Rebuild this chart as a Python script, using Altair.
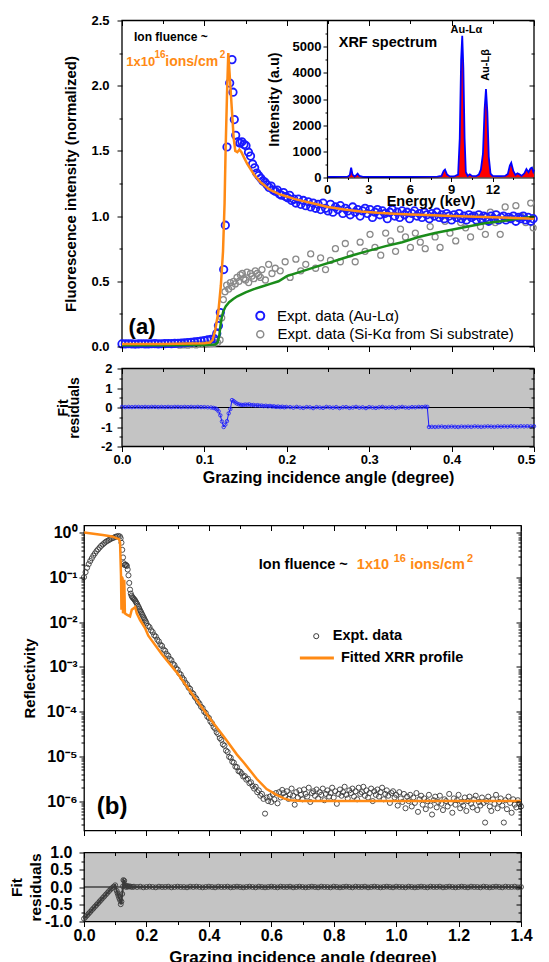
import altair as alt
import pandas as pd

FONT = "Liberation Sans"
BLUE = "#1a1aff"
ORANGE = "#ff8a14"
GREEN = "#1a8c1a"
GREY = "#8a8a8a"
DARK = "#3a3a3a"
RES_BG = "#c4c4c4"

# ---------------- Panel (a): GIXRF ----------------
au_pairs = [
    (0.000, 0.020), (0.004, 0.020), (0.008, 0.021), (0.012, 0.020), (0.016, 0.019), (0.020, 0.020),
    (0.024, 0.021), (0.028, 0.020), (0.032, 0.020), (0.036, 0.021), (0.040, 0.022), (0.044, 0.020),
    (0.048, 0.021), (0.052, 0.022), (0.056, 0.023), (0.060, 0.022), (0.064, 0.024), (0.068, 0.025),
    (0.072, 0.026), (0.076, 0.028), (0.080, 0.030), (0.084, 0.032), (0.088, 0.035), (0.092, 0.038),
    (0.096, 0.042), (0.100, 0.045), (0.104, 0.050), (0.108, 0.055),
    (0.112, 0.06), (0.115, 0.10), (0.117, 0.16), (0.1193, 0.26), (0.1234, 0.59), (0.1254, 0.93),
    (0.1274, 1.53), (0.1307, 2.02), (0.1335, 2.20), (0.1347, 1.95), (0.1363, 1.74), (0.1380, 1.62),
    (0.1405, 1.57), (0.1430, 1.56), (0.1455, 1.57), (0.1480, 1.55), (0.1505, 1.54), (0.1535, 1.49),
    (0.1560, 1.46), (0.1585, 1.40), (0.1610, 1.37), (0.1635, 1.33), (0.1660, 1.31), (0.1685, 1.29),
    (0.1710, 1.27), (0.1735, 1.26), (0.1760, 1.24), (0.1785, 1.22), (0.1810, 1.23), (0.1835, 1.20),
    (0.1860, 1.19), (0.1885, 1.20), (0.1910, 1.17), (0.1935, 1.16), (0.1960, 1.18), (0.1985, 1.15),
    (0.2010, 1.14), (0.2035, 1.16), (0.2060, 1.12), (0.2085, 1.13),
    (0.211, 1.10), (0.214, 1.13), (0.217, 1.09), (0.220, 1.12), (0.223, 1.08), (0.226, 1.11),
    (0.229, 1.07), (0.232, 1.10), (0.235, 1.06), (0.238, 1.09), (0.241, 1.05), (0.244, 1.10),
    (0.247, 1.06), (0.250, 1.04), (0.253, 1.09), (0.256, 1.03), (0.259, 1.07), (0.262, 1.05),
    (0.265, 1.08), (0.268, 1.02), (0.271, 1.06), (0.274, 1.04), (0.277, 1.01), (0.280, 1.07),
    (0.283, 1.03), (0.286, 1.05), (0.289, 1.00), (0.292, 1.04), (0.295, 1.06), (0.298, 1.02),
    (0.301, 1.05), (0.304, 0.99), (0.307, 1.03), (0.310, 1.05), (0.313, 1.01), (0.316, 1.04),
    (0.319, 1.02), (0.322, 0.98), (0.325, 1.03), (0.328, 1.05), (0.331, 1.00), (0.334, 1.03),
    (0.337, 0.99), (0.340, 1.04), (0.343, 1.01), (0.346, 1.03), (0.349, 0.98), (0.352, 1.02),
    (0.355, 1.04), (0.358, 1.00), (0.361, 1.02), (0.364, 0.99), (0.367, 1.03), (0.370, 1.01),
    (0.373, 0.98), (0.376, 1.02), (0.379, 1.00), (0.382, 1.03), (0.385, 0.99), (0.388, 1.01),
    (0.391, 0.98), (0.394, 1.02), (0.397, 1.00), (0.400, 0.97), (0.403, 1.01), (0.406, 0.99),
    (0.409, 1.02), (0.412, 0.98), (0.415, 1.00), (0.418, 0.97), (0.421, 1.01), (0.424, 0.99),
    (0.427, 1.00), (0.430, 0.97), (0.433, 1.01), (0.436, 0.98), (0.439, 1.00), (0.442, 0.99),
    (0.445, 0.96), (0.448, 1.00), (0.451, 0.98), (0.454, 1.01), (0.457, 0.97), (0.460, 0.99),
    (0.463, 1.00), (0.466, 0.97), (0.469, 0.99), (0.472, 0.98), (0.475, 1.00), (0.478, 0.96),
    (0.481, 0.99), (0.484, 0.98), (0.487, 1.00), (0.490, 0.97), (0.493, 0.99), (0.496, 0.96),
    (0.499, 0.98),
]

si_pairs = [
    (0.070, 0.010), (0.075, 0.012), (0.080, 0.010), (0.085, 0.015), (0.090, 0.012), (0.095, 0.018),
    (0.100, 0.015), (0.104, 0.020), (0.108, 0.022), (0.112, 0.025), (0.116, 0.030), (0.119, 0.050),
    (0.121, 0.22), (0.123, 0.36), (0.125, 0.42), (0.127, 0.47), (0.1295, 0.44), (0.1315, 0.49),
    (0.1335, 0.46), (0.1355, 0.50), (0.1375, 0.48), (0.1396, 0.53), (0.142, 0.50), (0.1436, 0.55),
    (0.146, 0.56), (0.1477, 0.52), (0.150, 0.51), (0.1517, 0.57), (0.1537, 0.49), (0.156, 0.56),
    (0.1578, 0.54), (0.160, 0.52), (0.1618, 0.58), (0.164, 0.56), (0.1659, 0.545), (0.168, 0.53),
    (0.1699, 0.59), (0.174, 0.51), (0.178, 0.63), (0.182, 0.56), (0.186, 0.60), (0.192, 0.58),
    (0.198, 0.65), (0.204, 0.53), (0.211, 0.67), (0.217, 0.58), (0.223, 0.63), (0.229, 0.71),
    (0.235, 0.60), (0.241, 0.68), (0.247, 0.59), (0.253, 0.66), (0.259, 0.75), (0.265, 0.65),
    (0.271, 0.79), (0.277, 0.71), (0.283, 0.65), (0.289, 0.80), (0.295, 0.73), (0.301, 0.86),
    (0.307, 0.76), (0.314, 0.70), (0.320, 0.87), (0.326, 0.81), (0.332, 0.73), (0.338, 0.90),
    (0.344, 0.84), (0.350, 0.76), (0.356, 0.87), (0.362, 0.80), (0.368, 0.75), (0.374, 0.92),
    (0.380, 0.84), (0.386, 0.76), (0.392, 0.96), (0.398, 0.87), (0.405, 0.81), (0.411, 0.95),
    (0.417, 0.91), (0.423, 0.84), (0.429, 1.00), (0.435, 0.92), (0.441, 0.86), (0.447, 1.03),
    (0.453, 0.95), (0.459, 0.86), (0.465, 1.07), (0.471, 0.98), (0.478, 1.08), (0.484, 1.00),
    (0.490, 0.95), (0.496, 1.10), (0.499, 0.91),
]

fit_au_pairs = [
    (0.0, 0.02), (0.05, 0.02), (0.10, 0.025), (0.107, 0.03), (0.110, 0.05), (0.113, 0.12),
    (0.117, 0.27), (0.120, 0.47), (0.1226, 0.73), (0.1245, 1.10), (0.1257, 1.50), (0.1275, 1.95),
    (0.129, 2.25), (0.131, 2.05), (0.1335, 1.80), (0.1355, 1.60), (0.1375, 1.50), (0.140, 1.49),
    (0.1425, 1.51), (0.145, 1.49), (0.148, 1.45), (0.152, 1.40), (0.156, 1.36), (0.160, 1.32),
    (0.164, 1.29), (0.168, 1.26), (0.172, 1.24), (0.176, 1.22), (0.180, 1.20), (0.185, 1.185),
    (0.190, 1.17), (0.200, 1.15), (0.210, 1.13), (0.220, 1.115), (0.230, 1.10), (0.240, 1.085),
    (0.250, 1.07), (0.270, 1.05), (0.290, 1.035), (0.310, 1.025), (0.330, 1.018), (0.350, 1.012),
    (0.370, 1.008), (0.400, 1.0), (0.430, 0.995), (0.460, 0.99), (0.500, 0.98),
]

fit_si_pairs = [
    (0.0, 0.01), (0.05, 0.01), (0.10, 0.012), (0.113, 0.015), (0.116, 0.03), (0.118, 0.08),
    (0.1195, 0.16), (0.121, 0.22), (0.123, 0.27), (0.126, 0.31), (0.130, 0.34), (0.135, 0.365),
    (0.140, 0.385), (0.150, 0.415), (0.160, 0.44), (0.170, 0.46), (0.180, 0.48), (0.190, 0.50),
    (0.200, 0.54), (0.220, 0.58), (0.240, 0.62), (0.260, 0.66), (0.280, 0.70), (0.300, 0.735),
    (0.320, 0.77), (0.340, 0.80), (0.360, 0.84), (0.380, 0.87), (0.400, 0.895), (0.420, 0.92),
    (0.440, 0.945), (0.460, 0.96), (0.480, 0.98), (0.500, 0.995),
]

res_a_pairs = [
    (0.000, 0.03), (0.004, 0.02), (0.008, 0.03), (0.012, 0.02), (0.016, 0.03), (0.020, 0.03),
    (0.024, 0.02), (0.028, 0.03), (0.032, 0.02), (0.036, 0.03), (0.040, 0.03), (0.044, 0.02),
    (0.048, 0.03), (0.052, 0.02), (0.056, 0.03), (0.060, 0.02), (0.064, 0.03), (0.068, 0.03),
    (0.072, 0.02), (0.076, 0.03), (0.080, 0.02), (0.084, 0.03), (0.088, 0.02), (0.092, 0.03),
    (0.096, 0.02), (0.100, 0.02), (0.104, 0.01), (0.108, 0.00),
    (0.1110, -0.02), (0.1135, -0.05), (0.1153, -0.10), (0.1173, -0.20), (0.1193, -0.40),
    (0.1213, -0.72), (0.1234, -1.00), (0.1254, -0.88), (0.1274, -0.70), (0.1295, -0.30),
    (0.1315, -0.08), (0.1335, 0.38), (0.1355, 0.33), (0.1375, 0.26), (0.1395, 0.20), (0.1420, 0.16),
    (0.1445, 0.14), (0.1470, 0.13), (0.1495, 0.15), (0.1520, 0.14), (0.1545, 0.16), (0.1570, 0.12),
    (0.1595, 0.13), (0.1620, 0.10), (0.1645, 0.12), (0.1670, 0.09), (0.1695, 0.10), (0.1720, 0.07),
    (0.1745, 0.09), (0.1770, 0.06), (0.1795, 0.08), (0.1820, 0.05), (0.1845, 0.06), (0.1870, 0.03),
    (0.1895, 0.05), (0.1920, 0.02), (0.1945, 0.04), (0.1970, 0.01), (0.1995, 0.03),
    (0.204, 0.02), (0.208, -0.01), (0.212, 0.03), (0.216, 0.00), (0.220, -0.02), (0.224, 0.02),
    (0.228, 0.01), (0.232, -0.03), (0.236, 0.02), (0.240, 0.00), (0.244, -0.02), (0.248, 0.03),
    (0.252, 0.01), (0.256, -0.01), (0.260, 0.02), (0.264, -0.03), (0.268, 0.01), (0.272, 0.02),
    (0.276, -0.02), (0.280, 0.00), (0.284, 0.03), (0.288, -0.01), (0.292, 0.01), (0.296, -0.03),
    (0.300, 0.02), (0.304, 0.00), (0.308, -0.02), (0.312, 0.01), (0.316, 0.03), (0.320, -0.01),
    (0.324, 0.00), (0.328, 0.02), (0.332, -0.02), (0.336, 0.01), (0.340, 0.03), (0.344, 0.00),
    (0.348, -0.01), (0.352, 0.02), (0.356, 0.01), (0.360, 0.03), (0.364, 0.02), (0.368, 0.04),
    (0.3705, 0.03), (0.3725, -1.00),
    (0.376, -0.99), (0.380, -1.00), (0.384, -0.99), (0.388, -0.98), (0.392, -1.00), (0.396, -0.99),
    (0.400, -0.98), (0.404, -0.99), (0.408, -1.00), (0.412, -0.98), (0.416, -0.99), (0.420, -0.98),
    (0.424, -0.99), (0.428, -0.97), (0.432, -0.98), (0.436, -0.99), (0.440, -0.98), (0.444, -0.97),
    (0.448, -0.98), (0.452, -0.99), (0.456, -0.97), (0.460, -0.98), (0.464, -0.97), (0.468, -0.98),
    (0.472, -0.96), (0.476, -0.97), (0.480, -0.98), (0.484, -0.96), (0.488, -0.97), (0.492, -0.96),
    (0.496, -0.97), (0.500, -0.96),
]

# XRF spectrum inset (energy keV, counts)
xrf_pairs = [
    (0.0, 20), (0.5, 20), (1.0, 25), (1.5, 30), (1.65, 90), (1.75, 380), (1.85, 110), (2.0, 40),
    (2.12, 90), (2.22, 150), (2.35, 60), (2.6, 25), (3.0, 20), (4.0, 20), (5.0, 20), (6.0, 20),
    (7.0, 25), (8.0, 30), (8.3, 60), (8.45, 250), (8.55, 300), (8.7, 110), (8.9, 40), (9.2, 40),
    (9.5, 110), (9.62, 1500), (9.72, 4500), (9.80, 5420), (9.88, 4200), (9.97, 1500), (10.06, 200),
    (10.2, 60), (10.35, 120), (10.5, 60), (10.8, 50), (11.0, 110), (11.15, 300), (11.3, 900),
    (11.42, 2600), (11.52, 3380), (11.62, 2500), (11.72, 800), (11.85, 150), (12.0, 60), (12.3, 50),
    (12.6, 50), (12.9, 60), (13.1, 130), (13.25, 460), (13.35, 560), (13.5, 250), (13.65, 100),
    (13.8, 160), (13.95, 120), (14.1, 60), (14.3, 160), (14.45, 320), (14.6, 200), (14.75, 350),
    (14.85, 380), (14.95, 220), (15.0, 300),
]

# ---------------- Panel (b): XRR (angle, log10 reflectivity) ----------------
xrr_pairs = [
    (0.000, -0.99), (0.005, -0.88), (0.010, -0.78), (0.015, -0.70), (0.020, -0.63), (0.025, -0.57),
    (0.030, -0.51), (0.035, -0.46), (0.040, -0.41), (0.045, -0.37), (0.050, -0.33), (0.055, -0.29),
    (0.060, -0.26), (0.065, -0.23), (0.070, -0.20), (0.075, -0.18), (0.080, -0.16), (0.085, -0.14),
    (0.090, -0.12), (0.095, -0.11), (0.100, -0.09), (0.105, -0.08), (0.110, -0.07), (0.115, -0.08),
    (0.1175, -0.12), (0.1200, -0.22), (0.1225, -0.38), (0.1250, -0.55), (0.1275, -0.68),
    (0.1300, -0.72), (0.1325, -0.71), (0.1350, -0.72), (0.1375, -0.74), (0.1400, -0.82),
    (0.1425, -0.95), (0.1450, -1.12), (0.1475, -1.27), (0.1500, -1.36), (0.1525, -1.41),
    (0.1550, -1.44), (0.1575, -1.46), (0.1600, -1.48), (0.1625, -1.50), (0.1650, -1.53),
    (0.1675, -1.56), (0.1700, -1.59), (0.1725, -1.63), (0.1750, -1.66), (0.1775, -1.70),
    (0.1800, -1.74), (0.1825, -1.77), (0.1850, -1.81), (0.1875, -1.84), (0.1900, -1.88),
    (0.1925, -1.91), (0.1950, -1.95), (0.1975, -1.98), (0.2000, -2.02),
    (0.205, -2.08), (0.210, -2.11), (0.215, -2.18), (0.220, -2.22), (0.225, -2.29), (0.230, -2.32),
    (0.235, -2.39), (0.240, -2.43), (0.245, -2.50), (0.250, -2.53), (0.255, -2.61), (0.260, -2.64),
    (0.265, -2.71), (0.270, -2.75), (0.275, -2.82), (0.280, -2.85), (0.285, -2.93), (0.290, -2.96),
    (0.295, -3.03), (0.300, -3.06), (0.305, -3.14), (0.310, -3.17), (0.315, -3.24), (0.320, -3.28),
    (0.325, -3.35), (0.330, -3.39), (0.335, -3.46), (0.340, -3.49), (0.345, -3.57), (0.350, -3.60),
    (0.355, -3.67), (0.360, -3.71), (0.365, -3.78), (0.370, -3.82), (0.375, -3.89), (0.380, -3.92),
    (0.385, -4.00), (0.390, -4.03), (0.395, -4.11), (0.400, -4.14), (0.405, -4.22), (0.410, -4.26),
    (0.415, -4.34), (0.420, -4.38), (0.425, -4.46), (0.430, -4.50), (0.435, -4.59), (0.440, -4.63),
    (0.445, -4.73), (0.450, -4.76), (0.455, -4.87), (0.460, -4.90), (0.465, -5.01), (0.470, -5.03),
    (0.475, -5.12), (0.480, -5.14), (0.485, -5.23), (0.490, -5.24), (0.495, -5.33), (0.500, -5.34),
    (0.505, -5.38), (0.510, -5.45), (0.515, -5.44), (0.520, -5.52), (0.525, -5.50), (0.530, -5.60),
    (0.535, -5.58), (0.540, -5.66), (0.545, -5.72), (0.550, -5.68), (0.555, -5.80), (0.560, -5.76),
    (0.565, -5.88), (0.570, -5.84), (0.575, -5.95), (0.580, -6.28), (0.585, -5.92), (0.590, -6.00),
    (0.595, -5.90), (0.600, -6.02), (0.605, -5.85), (0.610, -5.96), (0.615, -5.82), (0.620, -6.05),
    (0.625, -5.80), (0.630, -5.92), (0.635, -5.75),
    (0.640, -5.82), (0.645, -5.90), (0.650, -5.78), (0.655, -5.95), (0.660, -5.85), (0.665, -5.72),
    (0.670, -5.88), (0.675, -6.08), (0.680, -5.80), (0.685, -5.92),
    (0.690, -5.76), (0.695, -5.86), (0.700, -5.96), (0.705, -5.74), (0.710, -5.84), (0.715, -5.90),
    (0.720, -5.70), (0.725, -6.02), (0.730, -5.82), (0.735, -5.78),
    (0.740, -5.88), (0.745, -5.74), (0.750, -5.94), (0.755, -5.80), (0.760, -5.86), (0.765, -5.72),
    (0.770, -5.98), (0.775, -5.84), (0.780, -5.76), (0.785, -5.90),
    (0.790, -5.82), (0.795, -5.70), (0.800, -5.92), (0.805, -5.78), (0.810, -6.06), (0.815, -5.84),
    (0.820, -5.74), (0.825, -5.88), (0.830, -5.80), (0.835, -5.68),
    (0.840, -5.86), (0.845, -5.94), (0.850, -5.76), (0.855, -5.82), (0.860, -5.72), (0.865, -5.90),
    (0.870, -5.78), (0.875, -5.96), (0.880, -5.70), (0.885, -5.84),
    (0.890, -5.80), (0.895, -5.68), (0.900, -5.88), (0.905, -5.76), (0.910, -5.92), (0.915, -5.82),
    (0.920, -5.72), (0.925, -6.00), (0.930, -5.78), (0.935, -5.86),
    (0.940, -5.74), (0.945, -5.90), (0.950, -5.80), (0.955, -5.70), (0.960, -5.96), (0.965, -5.84),
    (0.970, -5.76), (0.975, -5.88), (0.980, -6.04), (0.985, -5.82),
    (0.990, -5.78), (0.995, -5.92), (1.000, -5.86), (1.005, -6.10), (1.010, -5.80), (1.015, -5.94),
    (1.020, -6.02), (1.025, -5.84), (1.030, -6.16), (1.035, -5.90),
    (1.040, -6.00), (1.045, -5.86), (1.050, -6.12), (1.055, -5.92), (1.060, -6.04), (1.065, -5.82),
    (1.070, -6.24), (1.075, -5.96), (1.080, -5.88), (1.085, -6.08),
    (1.090, -5.94), (1.095, -6.18), (1.100, -6.00), (1.105, -5.86), (1.110, -6.10), (1.115, -6.30),
    (1.120, -5.98), (1.125, -5.90), (1.130, -6.14), (1.135, -6.02),
    (1.140, -5.88), (1.145, -6.06), (1.150, -6.20), (1.155, -5.96), (1.160, -6.00), (1.165, -6.12),
    (1.170, -5.84), (1.175, -6.04), (1.180, -6.26), (1.185, -5.94),
    (1.190, -6.08), (1.195, -5.98), (1.200, -5.86), (1.205, -6.16), (1.210, -6.02), (1.215, -6.10),
    (1.220, -5.92), (1.225, -6.22), (1.230, -6.00), (1.235, -5.90),
    (1.240, -6.06), (1.245, -6.14), (1.250, -5.96), (1.255, -5.88), (1.260, -6.20), (1.265, -6.02),
    (1.270, -6.10), (1.275, -5.92), (1.280, -6.04), (1.285, -6.48),
    (1.290, -6.00), (1.295, -5.90), (1.300, -6.12), (1.305, -6.22), (1.310, -5.96), (1.315, -6.06),
    (1.320, -5.86), (1.325, -6.16), (1.330, -6.02), (1.335, -5.94),
    (1.340, -6.10), (1.345, -6.48), (1.350, -5.98), (1.355, -6.18), (1.360, -5.90), (1.365, -6.04),
    (1.370, -6.26), (1.375, -5.96), (1.380, -6.08), (1.385, -6.14),
    (1.390, -5.98), (1.395, -6.06), (1.400, -6.12),
]

fit_xrr_pairs = [
    (0.0, 0.01), (0.03, -0.02), (0.06, -0.05), (0.09, -0.08), (0.112, -0.14), (0.1155, -0.21),
    (0.1185, -0.95), (0.1200, -1.72), (0.1212, -0.98), (0.1235, -1.02), (0.1250, -1.80),
    (0.1265, -1.75), (0.1290, -1.05), (0.1310, -1.80), (0.1370, -1.83), (0.1475, -1.87),
    (0.1530, -1.72), (0.1640, -1.66), (0.1690, -1.80), (0.1796, -1.95), (0.1956, -2.13),
    (0.206, -2.30), (0.25, -2.72), (0.297, -3.12), (0.35, -3.64), (0.404, -4.16), (0.45, -4.58),
    (0.49, -4.96), (0.511, -5.13), (0.553, -5.50), (0.585, -5.73), (0.617, -5.86), (0.64, -5.94),
    (0.66, -5.98), (0.70, -6.0), (1.40, -6.0),
]

res_b_pairs = [
    (0.000, -0.92), (0.005, -0.87), (0.010, -0.82), (0.015, -0.77), (0.020, -0.72), (0.025, -0.67),
    (0.030, -0.62), (0.035, -0.57), (0.040, -0.52), (0.045, -0.47), (0.050, -0.42), (0.055, -0.37),
    (0.060, -0.32), (0.065, -0.27), (0.070, -0.22), (0.075, -0.17), (0.080, -0.12), (0.085, -0.07),
    (0.090, -0.03), (0.095, 0.01), (0.100, 0.05),
    (0.1048, -0.11), (0.1075, -0.18), (0.1102, -0.25), (0.1128, -0.32), (0.1155, -0.38),
    (0.1177, -0.50), (0.1200, -0.42), (0.1225, -0.20), (0.1250, 0.02), (0.1262, 0.20),
    (0.1290, 0.18), (0.1320, 0.05), (0.1350, 0.00), (0.1380, 0.03), (0.1410, 0.01),
    (0.1450, 0.02), (0.1500, 0.01), (0.1550, 0.00),
    (0.16, 0.01), (0.17, 0.00), (0.18, 0.01), (0.19, -0.01), (0.20, 0.00), (0.21, 0.01),
    (0.22, 0.00), (0.23, -0.01), (0.24, 0.01), (0.25, 0.00), (0.26, 0.00), (0.27, 0.01),
    (0.28, -0.01), (0.29, 0.00), (0.30, 0.01), (0.31, 0.00), (0.32, 0.00), (0.33, -0.01),
    (0.34, 0.01), (0.35, 0.00), (0.36, 0.01), (0.37, 0.00), (0.38, -0.01), (0.39, 0.00),
    (0.40, 0.01), (0.41, 0.00), (0.42, -0.01), (0.43, 0.01), (0.44, 0.00), (0.45, 0.00),
    (0.46, 0.01), (0.47, -0.01), (0.48, 0.00), (0.49, 0.01), (0.50, 0.00), (0.51, -0.01),
    (0.52, 0.00), (0.53, 0.01), (0.54, 0.00), (0.55, -0.01), (0.56, 0.01), (0.57, 0.00),
    (0.58, -0.01), (0.59, 0.00), (0.60, 0.01), (0.61, 0.00), (0.62, -0.01), (0.63, 0.01),
    (0.64, 0.00), (0.65, 0.00), (0.66, 0.01), (0.67, -0.01), (0.68, 0.00), (0.69, 0.01),
    (0.70, 0.00), (0.71, -0.01), (0.72, 0.00), (0.73, 0.01), (0.74, 0.00), (0.75, -0.01),
    (0.76, 0.01), (0.77, 0.00), (0.78, 0.00), (0.79, -0.01), (0.80, 0.01), (0.81, 0.00),
    (0.82, -0.01), (0.83, 0.00), (0.84, 0.01), (0.85, 0.00), (0.86, -0.01), (0.87, 0.01),
    (0.88, 0.00), (0.89, 0.00), (0.90, 0.01), (0.91, -0.01), (0.92, 0.00), (0.93, 0.01),
    (0.94, 0.00), (0.95, -0.01), (0.96, 0.00), (0.97, 0.01), (0.98, 0.00), (0.99, -0.01),
    (1.00, 0.01), (1.01, 0.00), (1.02, 0.00), (1.03, -0.01), (1.04, 0.01), (1.05, 0.00),
    (1.06, -0.01), (1.07, 0.00), (1.08, 0.01), (1.09, 0.00), (1.10, -0.01), (1.11, 0.01),
    (1.12, 0.00), (1.13, 0.00), (1.14, 0.01), (1.15, -0.01), (1.16, 0.00), (1.17, 0.01),
    (1.18, 0.00), (1.19, -0.01), (1.20, 0.00), (1.21, 0.01), (1.22, 0.00), (1.23, -0.01),
    (1.24, 0.01), (1.25, 0.00), (1.26, 0.00), (1.27, -0.01), (1.28, 0.01), (1.29, 0.00),
    (1.30, -0.01), (1.31, 0.00), (1.32, 0.01), (1.33, 0.00), (1.34, -0.01), (1.35, 0.01),
    (1.36, 0.00), (1.37, 0.00), (1.38, 0.01), (1.39, -0.01), (1.40, 0.00),
]

# tick values
xa_major = [0.0, 0.1, 0.2, 0.3, 0.4, 0.5]
xa_labeled_inner = [0.0, 0.1, 0.2, 0.3, 0.4]
xa_labeled_last = [0.5]
xa_minor = [0.05, 0.15, 0.25, 0.35, 0.45]
ya_major = [0.0, 0.5, 1.0, 1.5, 2.0, 2.5]
ya_minor = [0.25, 0.75, 1.25, 1.75, 2.25]
yra_major = [-2, -1, 0, 1, 2]
yra_minor = [-1.5, -0.5, 0.5, 1.5]
xb_major = [0.0, 0.2, 0.4, 0.6, 0.8, 1.0, 1.2, 1.4]
xb_minor = [0.1, 0.3, 0.5, 0.7, 0.9, 1.1, 1.3]
yb_major = [1e-6, 1e-5, 1e-4, 1e-3, 1e-2, 1e-1, 1.0]
yb_minor = [3e-7, 4e-7, 5e-7, 6e-7, 7e-7, 8e-7, 9e-7,
            2e-6, 3e-6, 4e-6, 5e-6, 6e-6, 7e-6, 8e-6, 9e-6,
            2e-5, 3e-5, 4e-5, 5e-5, 6e-5, 7e-5, 8e-5, 9e-5,
            2e-4, 3e-4, 4e-4, 5e-4, 6e-4, 7e-4, 8e-4, 9e-4,
            2e-3, 3e-3, 4e-3, 5e-3, 6e-3, 7e-3, 8e-3, 9e-3,
            2e-2, 3e-2, 4e-2, 5e-2, 6e-2, 7e-2, 8e-2, 9e-2,
            0.2, 0.3, 0.4, 0.5, 0.6, 0.7, 0.8, 0.9]
yrb_major = [-1.0, -0.5, 0.0, 0.5, 1.0]
yrb_minor = [-0.75, -0.25, 0.25, 0.75]
xi_major = [0, 3, 6, 9, 12]
xi_minor = [1.5, 4.5, 7.5, 10.5, 13.5]
yi_major = [0, 1000, 2000, 3000, 4000, 5000]
yi_minor = [500, 1500, 2500, 3500, 4500, 5500]

# ---------------- layout constants ----------------
SHIFT = 38          # panel (a) sits this much to the right of panel (b)
WA, HA, HRA = 412, 326, 78
WB, HB, HRB = 437, 305, 69


def frame(pairs, log=False):
    d = pd.DataFrame(pairs, columns=["x", "y"])
    if log:
        d["y"] = 10 ** d["y"]
    return d


XA = alt.Scale(domain=[0, 0.5], range=[SHIFT, SHIFT + WA], nice=False, zero=False)
YA = alt.Scale(domain=[0, 2.5], nice=False, zero=False)
YRA = alt.Scale(domain=[-2, 2], nice=False, zero=False)
XB = alt.Scale(domain=[0, 1.4], nice=False, zero=False)
YB = alt.Scale(type="log", domain=[2.2e-7, 1.46], nice=False)
YRB = alt.Scale(domain=[-1, 1], nice=False, zero=False)
XI = alt.Scale(domain=[0, 15], range=[SHIFT + 205, SHIFT + WA], nice=False, zero=False)
YI = alt.Scale(domain=[0, 6000], range=[157, 0], nice=False, zero=False)

COMMON = dict(domain=False, grid=False, tickColor="black", tickWidth=1, zindex=1)


def lab(size):
    return dict(labels=True, labelFont=FONT, labelFontSize=size, labelFontWeight="bold",
                labelColor="black", labelFlush=False, labelOverlap=False)


def tit(size, lh=16):
    return dict(titleFont=FONT, titleFontSize=size, titleFontWeight="bold", titleColor="black",
                titleBaseline="middle", titleLineHeight=lh)


def plain(orient, vals, size, off):
    return alt.Axis(orient=orient, values=vals, tickSize=size, offset=off, labels=False,
                    title=None, **COMMON)


def frame_axes(xs, ys, xmaj, xmin, ymaj, ymin, lab_size, ylab_expr, ytitle, ytitle_x,
               title_size, ylab_pad, xlab_expr=None, xtitle=None, xtitle_y=0, xlab_pad=2,
               title_lh=16, xtitle_size=15, left=0, big=5, small=3, xlab_vals=None,
               xlab_last=None):
    dummy = pd.DataFrame({"ax": [xmaj[0]], "ay": [ymaj[0]]})
    base = alt.Chart(dummy).mark_point(opacity=0)
    if xlab_expr is not None:
        xb = alt.Axis(orient="bottom", values=xlab_vals or xmaj, tickSize=big,
                      labelExpr=xlab_expr, labelPadding=xlab_pad, title=xtitle, titleY=xtitle_y,
                      **COMMON, **lab(lab_size), **tit(xtitle_size))
    else:
        xb = plain("bottom", xmaj, big, 0)
    yl = alt.Axis(orient="left", offset=-left, values=ymaj, tickSize=big, labelExpr=ylab_expr,
                  labelPadding=ylab_pad, title=ytitle, titleX=ytitle_x,
                  **COMMON, **lab(lab_size), **tit(title_size, title_lh))
    l1 = base.encode(x=alt.X("ax:Q", scale=xs, axis=xb), y=alt.Y("ay:Q", scale=ys, axis=yl))
    l2 = base.encode(x=alt.X("ax:Q", scale=xs, axis=plain("bottom", xmin, small, 0)),
                     y=alt.Y("ay:Q", scale=ys, axis=plain("left", ymin, small, -left)))
    l3 = base.encode(x=alt.X("ax:Q", scale=xs, axis=plain("top", xmaj, big, -big)),
                     y=alt.Y("ay:Q", scale=ys, axis=plain("right", ymaj, big, -big)))
    l4 = base.encode(x=alt.X("ax:Q", scale=xs, axis=plain("top", xmin, small, -small)),
                     y=alt.Y("ay:Q", scale=ys, axis=plain("right", ymin, small, -small)))
    out = [l1, l2, l3, l4]
    if xlab_last is not None:
        xl = alt.Axis(orient="bottom", values=xlab_last, tickSize=big, labelExpr=xlab_expr,
                      labelPadding=xlab_pad, labelAlign="right", labelOffset=1, title=None,
                      **COMMON, **lab(lab_size))
        out.append(base.encode(x=alt.X("ax:Q", scale=xs, axis=xl)))
    return out


def box(xs, ys, xdom, ydom, fill):
    d = pd.DataFrame({"x0": [xdom[0]], "x1": [xdom[1]], "y0": [ydom[0]], "y1": [ydom[1]]})
    return alt.Chart(d).mark_rect(fill=fill, stroke="black", strokeWidth=1.3).encode(
        x=alt.X("x0:Q", scale=xs, axis=None), x2="x1:Q",
        y=alt.Y("y0:Q", scale=ys, axis=None), y2="y1:Q")


def pts(d, xs, ys, color, size, sw, opacity=1.0):
    return alt.Chart(d).mark_point(shape="circle", filled=False, color=color, size=size,
                                   strokeWidth=sw, opacity=opacity).encode(
        x=alt.X("x:Q", scale=xs, axis=None), y=alt.Y("y:Q", scale=ys, axis=None))


def line(d, xs, ys, color, sw):
    return alt.Chart(d).mark_line(color=color, strokeWidth=sw).encode(
        x=alt.X("x:Q", scale=xs, axis=None), y=alt.Y("y:Q", scale=ys, axis=None))


def txt(text, x, y, xs, ys, size, color="black", weight="bold", align="left", angle=0):
    d = pd.DataFrame({"x": [x], "y": [y], "t": [text]})
    return alt.Chart(d).mark_text(font=FONT, fontSize=size, fontWeight=weight, color=color,
                                  align=align, baseline="middle", angle=angle).encode(
        x=alt.X("x:Q", scale=xs, axis=None), y=alt.Y("y:Q", scale=ys, axis=None), text="t:N")


def zero_rule(xs, ys, xdom):
    d = pd.DataFrame({"x0": [xdom[0]], "x1": [xdom[1]], "z": [0.0]})
    return alt.Chart(d).mark_rule(color="black", strokeWidth=1).encode(
        x=alt.X("x0:Q", scale=xs, axis=None), x2="x1:Q", y=alt.Y("z:Q", scale=ys, axis=None))


FMT1 = "format(datum.value, '.1f')"
FMT_D = "format(datum.value, 'd')"
FMT_SIGNED_D = "datum.value < 0 ? '-' + format(-datum.value, 'd') : format(datum.value, 'd')"
FMT_SIGNED_1 = "datum.value < 0 ? '-' + format(-datum.value, '.1f') : format(datum.value, '.1f')"
LOG_LAB = ("'10' + ['\u2070', '\u207b\u00b9', '\u207b\u00b2', '\u207b\u00b3', '\u207b\u2074', "
           "'\u207b\u2075', '\u207b\u2076'][round(-log(datum.value) / LN10)]")

# ---------------- panel (a) ----------------
au_df = frame(au_pairs)
si_df = frame(si_pairs)
fit_au_df = frame(fit_au_pairs)
fit_si_df = frame(fit_si_pairs)

a_layers = [box(XA, YA, [0, 0.5], [0, 2.5], "white")]
a_layers += frame_axes(XA, YA, xa_major, xa_minor, ya_major, ya_minor, 13, FMT1,
                       "Fluorescence intensity (normalized)", -51.4, 15, 8, left=SHIFT)
a_layers += [
    pts(si_df, XA, YA, GREY, 36, 1.3),
    pts(au_df, XA, YA, BLUE, 55, 1.8),
    line(fit_si_df, XA, YA, GREEN, 2.5),
    line(fit_au_df, XA, YA, ORANGE, 2.5),
    txt("Ion fluence ~", 0.0146, 2.377, XA, YA, 12),
    txt("1x10", 0.0052, 2.178, XA, YA, 13, ORANGE),
    txt("16", 0.0395, 2.235, XA, YA, 10, ORANGE),
    txt("ions/cm", 0.0526, 2.178, XA, YA, 14, ORANGE),
    txt("2", 0.1186, 2.237, XA, YA, 10, ORANGE),
    txt("(a)", 0.008, 0.146, XA, YA, 22),
    pts(pd.DataFrame({"x": [0.1678], "y": [0.235]}), XA, YA, BLUE, 64, 2.0),
    pts(pd.DataFrame({"x": [0.1678], "y": [0.094]}), XA, YA, GREY, 49, 1.5),
    txt("Expt. data (Au-L\u03b1)", 0.188, 0.235, XA, YA, 15, weight="normal"),
    txt("Expt. data (Si-K\u03b1 from Si substrate)", 0.4754, 0.094, XA, YA, 15,
        weight="normal", align="right"),
]
a_main = alt.layer(*a_layers).resolve_axis(x="independent", y="independent")

# inset
xrf_df = frame(xrf_pairs)
dummy_i = pd.DataFrame({"ax": [0.0], "ay": [0.0]})
ibase = alt.Chart(dummy_i).mark_point(opacity=0)
icommon = dict(grid=False, tickColor="black", tickWidth=1, domain=True, domainColor="black",
               domainWidth=1.2, zindex=1)
i_ax1 = ibase.encode(
    x=alt.X("ax:Q", scale=XI, axis=alt.Axis(orient="bottom", offset=-(HA - 157), values=xi_major,
                                            tickSize=4, labelPadding=2, labelExpr=FMT_D,
                                            title="Energy (keV)", titleY=24,
                                            **icommon, **lab(13), **tit(14.5))),
    y=alt.Y("ay:Q", scale=YI, axis=alt.Axis(orient="left", offset=-(SHIFT + 205), values=yi_major,
                                            tickSize=4, labelPadding=2, labelExpr=FMT_D,
                                            title="Intensity (a.u)", titleX=-53,
                                            **icommon, **lab(13), **tit(14.5))),
)
i_ax2 = ibase.encode(
    x=alt.X("ax:Q", scale=XI, axis=plain("bottom", xi_minor, 2, -(HA - 157))),
    y=alt.Y("ay:Q", scale=YI, axis=plain("left", yi_minor, 2, -(SHIFT + 205))),
)
inset = alt.layer(
    i_ax1, i_ax2,
    alt.Chart(xrf_df).mark_area(color="#ff0000").encode(
        x=alt.X("x:Q", scale=XI, axis=None), y=alt.Y("y:Q", scale=YI, axis=None)),
    line(xrf_df, XI, YI, "#0000ff", 1.8),
    txt("XRF spectrum", 0.85, 5150, XI, YI, 14.5),
    txt("Au-L\u03b1", 10.1, 5620, XI, YI, 11, align="center"),
    txt("Au-L\u03b2", 11.5, 4300, XI, YI, 11, align="center", angle=270),
).resolve_axis(x="independent", y="independent")

panel_a = alt.layer(a_main, inset).resolve_scale(x="independent", y="independent").properties(
    width=SHIFT + WA, height=HA)

# residual (a)
res_a_df = frame(res_a_pairs)
ra_layers = [box(XA, YRA, [0, 0.5], [-2, 2], RES_BG)]
ra_layers += frame_axes(XA, YRA, xa_major, xa_minor, yra_major, yra_minor, 13, FMT_SIGNED_D,
                        ["Fit", "residuals"], -58.8, 14, 5, xlab_expr=FMT1,
                        xtitle="Grazing incidence angle (degree)", xtitle_y=31, xlab_pad=2,
                        title_lh=11, xtitle_size=16, left=SHIFT,
                        xlab_vals=xa_labeled_inner, xlab_last=xa_labeled_last)
ra_layers += [
    zero_rule(XA, YRA, [0, 0.5]),
    line(res_a_df, XA, YRA, BLUE, 1),
    pts(res_a_df, XA, YRA, BLUE, 12, 0.8),
]
resid_a = alt.layer(*ra_layers).resolve_axis(x="independent", y="independent").properties(
    width=SHIFT + WA, height=HRA)

# ---------------- panel (b) ----------------
xrr_df = frame(xrr_pairs, log=True)
fit_xrr_df = frame(fit_xrr_pairs, log=True)
b_layers = frame_axes(XB, YB, xb_major, xb_minor, yb_major, yb_minor, 16, LOG_LAB,
                      "Reflectivity", -54.2, 15, 2)
b_layers += [
    pts(xrr_df, XB, YB, DARK, 26, 1.0, 0.9),
    line(fit_xrr_df, XB, YB, ORANGE, 2.5),
    txt("Ion fluence ~", 0.560, 10 ** -0.724, XB, YB, 14.5),
    txt("1x10", 0.874, 10 ** -0.724, XB, YB, 14.5, ORANGE),
    txt("16", 0.992, 10 ** -0.583, XB, YB, 11, ORANGE),
    txt("ions/cm", 1.045, 10 ** -0.724, XB, YB, 14.5, ORANGE),
    txt("2", 1.227, 10 ** -0.583, XB, YB, 11, ORANGE),
    pts(pd.DataFrame({"x": [0.744], "y": [10 ** -2.311]}), XB, YB, DARK, 26, 1.0),
    txt("Expt. data", 0.797, 10 ** -2.311, XB, YB, 14.5),
    line(pd.DataFrame({"x": [0.6916, 0.8006], "y": [10 ** -2.797, 10 ** -2.797]}), XB, YB, ORANGE, 3),
    txt("Fitted XRR profile", 0.823, 10 ** -2.797, XB, YB, 14.5),
    txt("(b)", 0.041, 10 ** -6.135, XB, YB, 24),
]
panel_b = alt.layer(*b_layers).resolve_axis(x="independent", y="independent").properties(
    width=WB, height=HB, view=alt.ViewBackground(fill="white", stroke="black", strokeWidth=1.3))

# residual (b)
res_b_df = frame(res_b_pairs)
rb_layers = frame_axes(XB, YRB, xb_major, xb_minor, yrb_major, yrb_minor, 16, FMT_SIGNED_1,
                       ["Fit", "residuals"], -67.6, 15.5, 7, xlab_expr=FMT1,
                       xtitle="Grazing incidence angle (degree)", xtitle_y=36, xlab_pad=1,
                       title_lh=19, xtitle_size=17)
rb_layers += [
    zero_rule(XB, YRB, [0, 1.4]),
    line(res_b_df, XB, YRB, DARK, 2),
    pts(res_b_df, XB, YRB, DARK, 24, 1.0, 0.9),
]
resid_b = alt.layer(*rb_layers).resolve_axis(x="independent", y="independent").properties(
    width=WB, height=HRB, view=alt.ViewBackground(fill=RES_BG, stroke="black", strokeWidth=1.3))

spacer = alt.Chart(pd.DataFrame({"s": [0]})).mark_point(opacity=0).properties(width=1, height=35)

chart = alt.vconcat(panel_a, resid_a, spacer, panel_b, resid_b, spacing=22,
                    bounds="flush").properties(
    padding={"left": 0, "top": 5.5, "right": 0, "bottom": 0}
).configure(background="white", font=FONT).configure_view(stroke="transparent")

chart.save("out.html", embed_options={"renderer": "svg", "actions": False})
